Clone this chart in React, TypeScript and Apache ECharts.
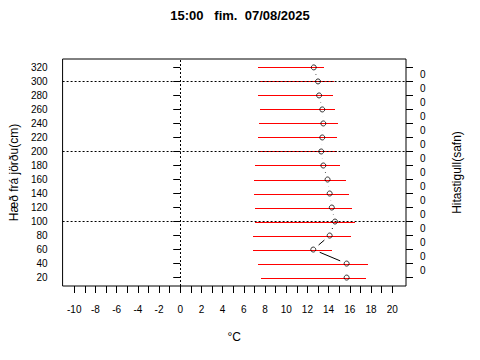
import React, { useEffect, useRef } from "react";
import * as echarts from "echarts";

// Heights above ground (cm)
const heights = [320, 300, 280, 260, 240, 220, 200, 180, 160, 140, 120, 100, 80, 60, 40, 20];
// Current temperature at each height (°C)
const temps = [12.6, 13.0, 13.1, 13.4, 13.5, 13.4, 13.3, 13.5, 13.9, 14.1, 14.3, 14.6, 14.1, 12.55, 15.7, 15.7];
// Minimum / maximum temperature at each height (°C)
const minT = [7.3, 7.5, 7.3, 7.5, 7.4, 7.3, 7.3, 7.1, 7.0, 7.0, 7.1, 7.1, 6.9, 6.9, 7.3, 7.6];
const maxT = [13.6, 14.5, 14.4, 14.6, 14.9, 14.8, 14.8, 15.1, 15.6, 15.9, 16.2, 16.5, 16.1, 14.3, 17.7, 17.5];
// Temperature gradient (right axis), placed between levels
const gradLevels = [310, 290, 270, 250, 230, 210, 190, 170, 150, 130, 110, 90, 70, 50, 30];
const gradients = [0, 0, 0, 0, 0, 0, 0, 0, 0, 0, 0, 0, 0, 0, 0];
// Axis ticks
const xTicks = [-10, -9, -8, -7, -6, -5, -4, -3, -2, -1, 0, 1, 2, 3, 4, 5, 6, 7, 8, 9, 10, 11, 12, 13, 14, 15, 16, 17, 18, 19, 20];
const xLabels = [-10, -8, -6, -4, -2, 0, 2, 4, 6, 8, 10, 12, 14, 16, 18, 20];
const yTicks = [20, 40, 60, 80, 100, 120, 140, 160, 180, 200, 220, 240, 260, 280, 300, 320];
const refY = [100, 200, 300];
const refX = [0];

const FONT = "Liberation Sans, Arial, sans-serif";
const GAP = 7;

export default function App() {
  const ref = useRef<HTMLDivElement>(null);
  useEffect(() => {
    if (!ref.current) return;
    const chart = echarts.init(ref.current, null, { renderer: "svg" });
    const rangeData = heights.map((h, i) => [h, minT[i], maxT[i]]);
    const pointData = heights.map((h, i) => [temps[i], h]);
    const segData = heights.slice(0, -1).map((h, i) => [temps[i], h, temps[i + 1], heights[i + 1]]);
    chart.setOption({
      animation: false,
      backgroundColor: "#fff",
      textStyle: { fontFamily: FONT },
      title: {
        text: "15:00   fim.  07/08/2025",
        left: "center",
        top: 4,
        textStyle: { fontFamily: FONT, fontSize: 13, fontWeight: "bold", color: "#000" },
      },
      grid: {
        left: 60,
        right: 74,
        top: 59,
        bottom: 74,
        show: true,
        borderColor: "#000",
        borderWidth: 1,
        backgroundColor: "transparent",
      },
      xAxis: {
        type: "value",
        min: -11.1,
        max: 21.3,
        name: "°C",
        nameLocation: "middle",
        nameGap: 45,
        nameTextStyle: { fontFamily: FONT, fontSize: 12, color: "#000" },
        axisLine: { show: false },
        splitLine: { show: false },
        axisTick: { show: true, length: 7, customValues: xTicks, lineStyle: { color: "#000" } },
        axisLabel: {
          customValues: xLabels,
          margin: 18,
          fontFamily: FONT,
          fontSize: 10,
          color: "#000",
        },
      },
      yAxis: [
        {
          type: "value",
          min: 8,
          max: 332,
          name: "Hæð frá jörðu(cm)",
          nameLocation: "middle",
          nameGap: 41,
          nameRotate: 90,
          nameTextStyle: { fontFamily: FONT, fontSize: 12, color: "#000" },
          axisLine: { show: false },
          splitLine: { show: false },
          axisTick: { show: true, length: 7, customValues: yTicks, lineStyle: { color: "#000" } },
          axisLabel: { customValues: yTicks, margin: 15, fontFamily: FONT, fontSize: 10, color: "#000" },
        },
        {
          type: "value",
          min: 8,
          max: 332,
          position: "right",
          name: "Hitastigull(safn)",
          nameLocation: "middle",
          nameGap: 45,
          nameRotate: 90,
          nameTextStyle: { fontFamily: FONT, fontSize: 12, color: "#000" },
          axisLine: { show: false },
          splitLine: { show: false },
          axisTick: { show: true, length: 7, customValues: yTicks, lineStyle: { color: "#000" } },
          axisLabel: {
            customValues: gradLevels,
            margin: 14,
            fontFamily: FONT,
            fontSize: 10,
            color: "#000",
            formatter: (v: number) => {
              const i = gradLevels.indexOf(Math.round(v));
              return i >= 0 ? String(gradients[i]) : "";
            },
          },
        },
      ],
      series: [
        {
          type: "custom",
          name: "range",
          data: rangeData,
          encode: { x: [1, 2], y: 0 },
          renderItem: (params: any, api: any) => {
            const y = api.value(0);
            const a = api.coord([api.value(1), y]);
            const b = api.coord([api.value(2), y]);
            const py = Math.round(a[1]) + 0.5;
            return {
              type: "line",
              shape: { x1: Math.round(a[0]), y1: py, x2: Math.round(b[0]), y2: py },
              style: { stroke: "#ff0000", lineWidth: 1 },
            };
          },
          markLine: {
            silent: true,
            symbol: "none",
            label: { show: false },
            lineStyle: { color: "#000", type: [2, 2], width: 1 },
            data: [...refY.map((v) => ({ yAxis: v })), ...refX.map((v) => ({ xAxis: v }))],
          },
          z: 2,
        },
        {
          type: "custom",
          name: "connect",
          data: segData,
          encode: { x: [0, 2], y: [1, 3] },
          renderItem: (params: any, api: any) => {
            const p1 = api.coord([api.value(0), api.value(1)]);
            const p2 = api.coord([api.value(2), api.value(3)]);
            const dx = p2[0] - p1[0];
            const dy = p2[1] - p1[1];
            const d = Math.sqrt(dx * dx + dy * dy);
            if (d <= 2 * GAP) return { type: "group", children: [] };
            const ux = dx / d;
            const uy = dy / d;
            return {
              type: "line",
              shape: {
                x1: p1[0] + ux * GAP,
                y1: p1[1] + uy * GAP,
                x2: p2[0] - ux * GAP,
                y2: p2[1] - uy * GAP,
              },
              style: { stroke: "#000", lineWidth: 1 },
            };
          },
          z: 3,
        },
        {
          type: "scatter",
          name: "temp",
          data: pointData,
          symbol: "circle",
          symbolSize: 5,
          itemStyle: { color: "rgba(0,0,0,0)", borderColor: "#000", borderWidth: 1 },
          z: 4,
        },
      ],
    });
    return () => chart.dispose();
  }, []);
  return (
    <div
      ref={ref}
      style={{ position: "fixed", left: 0, top: 0, width: 480, height: 360, background: "#fff" }}
    />
  );
}
